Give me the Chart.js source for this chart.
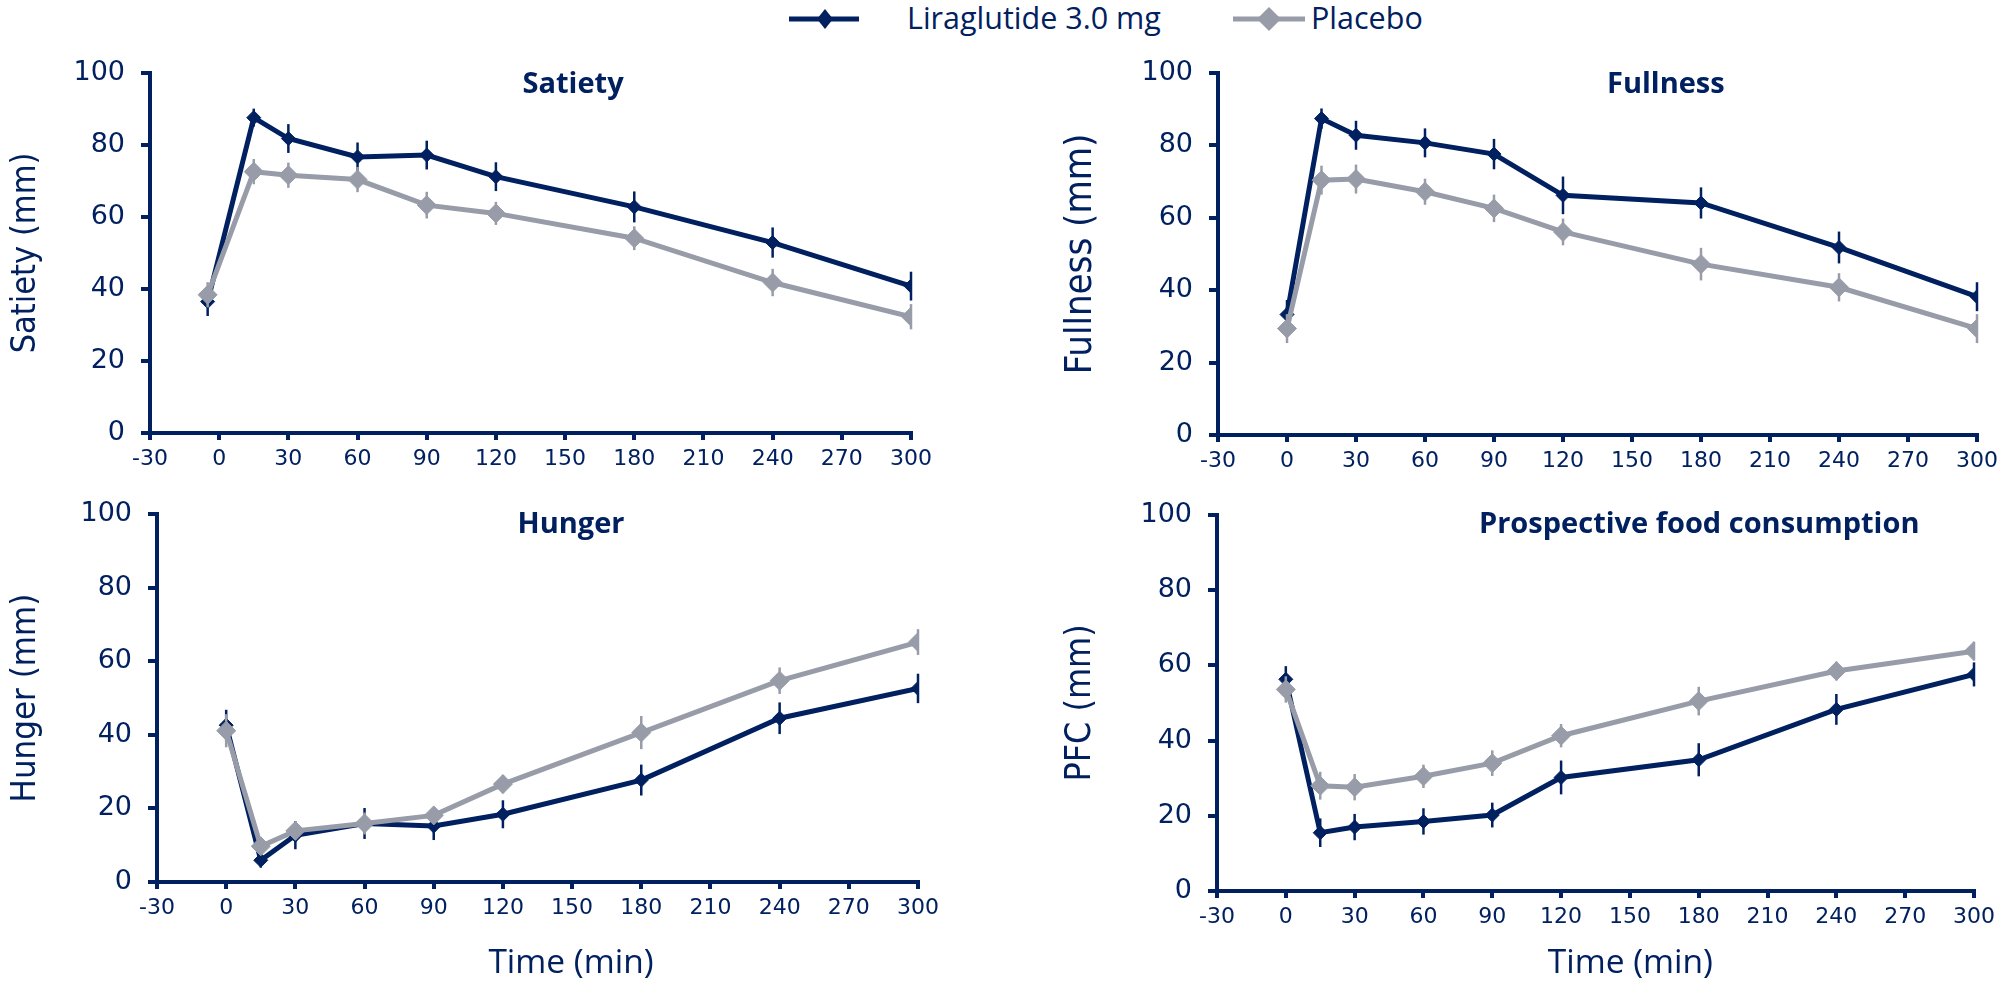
<!DOCTYPE html>
<html>
<head>
<meta charset="utf-8">
<script src="https://cdn.jsdelivr.net/npm/chart.js@4.4.0/dist/chart.umd.min.js"></script>
<style>
  body { margin: 0; background: #fff; width: 2003px; height: 981px; position: relative; overflow: hidden; }
  canvas, svg { position: absolute; }
</style>
</head>
<body>
<svg id="legend" width="2003" height="40" style="left:0px;top:0px">
  <line x1="789" y1="19" x2="859" y2="19" stroke="#002060" stroke-width="5"/>
  <polygon points="825,9 833,19 825,29 817,19" fill="#002060"/>
  <text x="907" y="29" font-family="Open Sans" font-size="30.5" fill="#002060">Liraglutide 3.0 mg</text>
  <line x1="1233" y1="19" x2="1305" y2="19" stroke="#979ca8" stroke-width="5"/>
  <polygon points="1269,7 1281,19 1269,31 1257,19" fill="#979ca8"/>
  <text x="1311" y="29" font-family="Open Sans" font-size="30.5" fill="#002060">Placebo</text>
</svg>
<canvas id="satiety" width="1000" height="450" style="left:0px;top:40px"></canvas>
<canvas id="fullness" width="1003" height="450" style="left:1000px;top:40px"></canvas>
<canvas id="hunger" width="1000" height="491" style="left:0px;top:490px"></canvas>
<canvas id="pfc" width="1003" height="491" style="left:1000px;top:490px"></canvas>
<script>
// time points (min)
const times = [0, 15, 30, 60, 90, 120, 180, 240, 300];
const satietyTimes = [-5, 15, 30, 60, 90, 120, 180, 240, 300];

// Satiety (mm), mean and SE
const satietyLira = [36.5, 87.6, 81.8, 76.7, 77.2, 71.2, 62.8, 52.9, 40.8];
const satietyLiraErr = [4, 2.5, 4, 4, 4, 4, 4.3, 4.2, 4];
const satietyPlacebo = [38.4, 72.6, 71.6, 70.4, 63.3, 61, 54.1, 41.8, 32.3];
const satietyPlaceboErr = [3.5, 3.5, 3.5, 3.5, 3.7, 3.2, 3.3, 3.8, 3.5];

// Fullness (mm)
const fullnessLira = [33.3, 87.4, 82.8, 80.7, 77.6, 66.2, 64.1, 51.8, 38.2];
const fullnessLiraErr = [4, 2.8, 4, 4, 4.2, 5.2, 4.3, 4.4, 4];
const fullnessPlacebo = [29.4, 70.4, 70.7, 67.2, 62.6, 56.1, 47.2, 40.8, 29.4];
const fullnessPlaceboErr = [4, 4, 4, 3.6, 3.8, 3.7, 4.5, 3.9, 4];

// Hunger (mm)
const hungerLira = [42.6, 5.9, 12.7, 15.9, 15.2, 18.4, 27.7, 44.5, 52.6];
const hungerLiraErr = [4.2, 2, 3.8, 4.2, 3.8, 3.8, 4.2, 4.3, 4];
const hungerPlacebo = [41.1, 9.7, 13.9, 15.9, 18.1, 26.6, 40.6, 54.7, 65.2];
const hungerPlaceboErr = [4.5, 2.2, 2.3, 3, 2, 2.5, 4.5, 3.6, 3.5];

// Prospective food consumption (mm)
const pfcLira = [56.3, 15.5, 17, 18.5, 20.2, 30.2, 34.9, 48.3, 57.6];
const pfcLiraErr = [3.5, 3.8, 3.5, 3.5, 3.3, 4.5, 4.4, 4.1, 3.2];
const pfcPlacebo = [53.6, 28, 27.6, 30.5, 34, 41.3, 50.5, 58.5, 63.8];
const pfcPlaceboErr = [3.5, 3.7, 3.5, 3.1, 3.4, 3.1, 3.8, 2.5, 2.5];

const NAVY = '#002060';
const GREY = '#979ca8';

// vertical SE bars, drawn under each dataset's markers
const errorBars = {
  id: 'errorBars',
  beforeDatasetDraw(chart, args) {
    const ds = chart.data.datasets[args.index];
    const y = chart.scales.y;
    const ctx = chart.ctx;
    ctx.save();
    ctx.strokeStyle = ds.borderColor;
    ctx.lineWidth = 2.5;
    args.meta.data.forEach((pt, i) => {
      const v = ds.data[i].y, e = ds.errors[i];
      ctx.beginPath();
      ctx.moveTo(pt.x, y.getPixelForValue(v + e));
      ctx.lineTo(pt.x, y.getPixelForValue(v - e));
      ctx.stroke();
    });
    ctx.restore();
  }
};

// panel heading and the optional "Time (min)" caption
const panelText = {
  id: 'panelText',
  afterDraw(chart, args, opts) {
    const { ctx, chartArea: ca } = chart;
    ctx.save();
    ctx.fillStyle = NAVY;
    ctx.textAlign = 'center';
    ctx.textBaseline = 'alphabetic';
    ctx.font = 'bold 29px "Open Sans"';
    ctx.fillText(opts.title, ca.left + opts.titleAt * ca.width, ca.top + opts.titleDy);
    if (opts.xTitle) {
      ctx.font = '33.5px "Open Sans"';
      ctx.fillText(opts.xTitle, ca.left + opts.xTitleAt * ca.width, ca.bottom + opts.xTitleDy);
    }
    ctx.restore();
  }
};

function points(xs, ys) {
  return xs.map((t, i) => ({ x: t, y: ys[i] }));
}

function panel(id, p) {
  const canvas = document.getElementById(id);
  const W = canvas.width, H = canvas.height;
  const a = p.area;
  return new Chart(canvas, {
    type: 'line',
    data: {
      datasets: [
        {
          label: 'Liraglutide 3.0 mg',
          data: points(p.x, p.lira),
          errors: p.liraErr,
          borderColor: NAVY,
          backgroundColor: NAVY,
          borderWidth: 5,
          pointStyle: 'rectRot',
          pointRadius: 7,
          pointBorderWidth: 1,
          order: 1
        },
        {
          label: 'Placebo',
          data: points(p.x, p.placebo),
          errors: p.placeboErr,
          borderColor: GREY,
          backgroundColor: GREY,
          borderWidth: 5,
          pointStyle: 'rectRot',
          pointRadius: 9.5,
          pointBorderWidth: 1,
          order: 0
        }
      ]
    },
    options: {
      responsive: false,
      animation: false,
      devicePixelRatio: 1,
      layout: { padding: { left: 0, top: a.top, right: W - a.right, bottom: 0 } },
      plugins: {
        legend: { display: false },
        tooltip: { enabled: false },
        panelText: p.text
      },
      scales: {
        x: {
          type: 'linear',
          min: -30,
          max: 300,
          ticks: { stepSize: 30, color: NAVY, font: { family: 'DejaVu Sans', size: 22 }, padding: 6 },
          grid: { drawOnChartArea: false, color: NAVY, lineWidth: 4, tickLength: 7 },
          border: { color: NAVY, width: 4 },
          afterFit(s) { s.height = H - a.bottom; s.paddingLeft = 0; s.paddingRight = 0; }
        },
        y: {
          min: 0,
          max: 100,
          ticks: { stepSize: 20, color: NAVY, font: { family: 'DejaVu Sans', size: 27 }, padding: 16 },
          grid: { drawOnChartArea: false, color: NAVY, lineWidth: 4, tickLength: 9 },
          border: { color: NAVY, width: 4 },
          title: {
            display: true,
            text: p.yTitle,
            color: NAVY,
            font: { family: '"DejaVu Sans Condensed", "DejaVu Sans"', size: p.yTitleSize },
            padding: { top: p.yTitleCenter - p.yTitleSize * 0.6, bottom: 0 }
          },
          afterFit(s) { s.width = a.left; s.paddingTop = 0; s.paddingBottom = 0; }
        }
      }
    },
    plugins: [errorBars, panelText]
  });
}

function drawAll() {
  panel('satiety', {
    x: satietyTimes, lira: satietyLira, liraErr: satietyLiraErr,
    placebo: satietyPlacebo, placeboErr: satietyPlaceboErr,
    area: { left: 150, top: 33, right: 911, bottom: 393 },
    yTitle: 'Satiety (mm)', yTitleSize: 34, yTitleCenter: 26,
    text: { title: 'Satiety', titleAt: 0.556, titleDy: 20 }
  });
  panel('fullness', {
    x: times, lira: fullnessLira, liraErr: fullnessLiraErr,
    placebo: fullnessPlacebo, placeboErr: fullnessPlaceboErr,
    area: { left: 218, top: 33, right: 977, bottom: 395 },
    yTitle: 'Fullness (mm)', yTitleSize: 38, yTitleCenter: 81,
    text: { title: 'Fullness', titleAt: 0.59, titleDy: 20 }
  });
  panel('hunger', {
    x: times, lira: hungerLira, liraErr: hungerLiraErr,
    placebo: hungerPlacebo, placeboErr: hungerPlaceboErr,
    area: { left: 157, top: 24, right: 918, bottom: 392 },
    yTitle: 'Hunger (mm)', yTitleSize: 34.5, yTitleCenter: 26,
    text: { title: 'Hunger', titleAt: 0.544, titleDy: 19, xTitle: 'Time (min)', xTitleAt: 0.544, xTitleDy: 91 }
  });
  panel('pfc', {
    x: times, lira: pfcLira, liraErr: pfcLiraErr,
    placebo: pfcPlacebo, placeboErr: pfcPlaceboErr,
    area: { left: 217, top: 25, right: 974, bottom: 401 },
    yTitle: 'PFC (mm)', yTitleSize: 35.5, yTitleCenter: 81,
    text: { title: 'Prospective food consumption', titleAt: 0.637, titleDy: 18, xTitle: 'Time (min)', xTitleAt: 0.546, xTitleDy: 82 }
  });
}

Promise.all([
  document.fonts.load('bold 29px "Open Sans"'),
  document.fonts.load('30px "Open Sans"'),
  document.fonts.load('22px "DejaVu Sans"'),
  document.fonts.load('32px "DejaVu Sans Condensed"')
]).then(drawAll, drawAll);
</script>
</body>
</html>
